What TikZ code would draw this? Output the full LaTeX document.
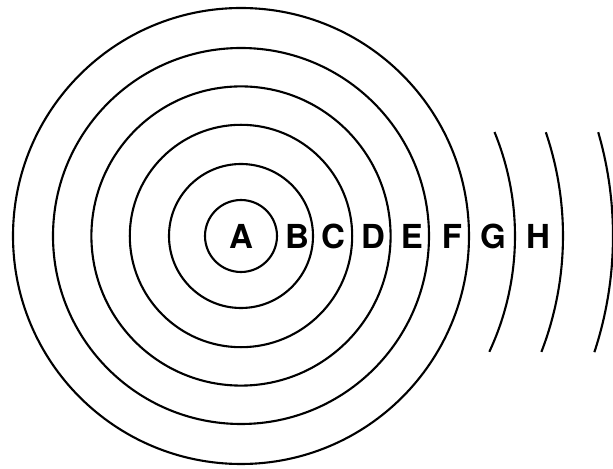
\documentclass[tikz,border=0pt]{standalone}
\usepackage{fontspec}
\setmainfont{TeX Gyre Heros}
\tikzset{
  onda/.style={line width=1.5pt},
  letra/.style={font=\fontsize{23.5}{28}\selectfont\bfseries, inner sep=0pt}
}
\begin{document}
\begin{tikzpicture}

% Marco
\useasboundingbox (-6.025,-5.825) rectangle (9.3,5.9);

% Círculos completos
\draw[onda] (0,0) circle (0.9);
\draw[onda] (0,0) circle (1.8);
\draw[onda] (0,0) circle (2.78);
\draw[onda] (0,0) circle (3.74);
\draw[onda] (0,0) circle (4.7);
\draw[onda] (0,0) circle (5.7);

% Arcos
\draw[onda] (-25:6.85) arc[start angle=-25,end angle=22.3,radius=6.85];
\draw[onda] (-21.1:8.05) arc[start angle=-21.1,end angle=18.8,radius=8.05];
\draw[onda] (-18.2:9.3) arc[start angle=-18.2,end angle=16.2,radius=9.3];

% Letras
\node[letra] (A) at (0,0) {A};
\node[letra] (B) at (1.4,0) {B};
\node[letra] (C) at (2.3,0) {C};
\node[letra] (D) at (3.3,0) {D};
\node[letra] (E) at (4.275,0) {E};
\node[letra] (F) at (5.275,0) {F};
\node[letra] (G) at (6.3,0) {G};
\node[letra] (H) at (7.425,0) {H};

\end{tikzpicture}
\end{document}
